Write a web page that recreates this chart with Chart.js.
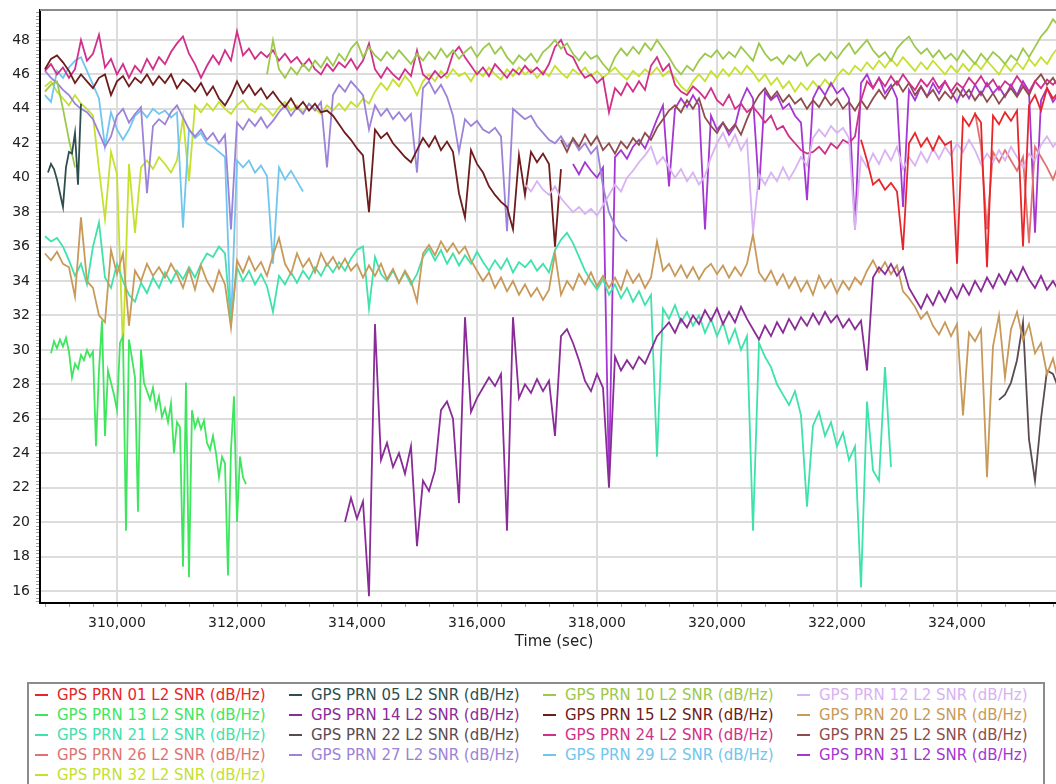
<!DOCTYPE html>
<html>
<head>
<meta charset="utf-8">
<title>GPS L2 SNR</title>
<script src="https://cdn.jsdelivr.net/npm/chart.js@4.4.1/dist/chart.umd.min.js"></script>
<style>
    html, body { margin: 0; padding: 0; background: #fff; overflow: hidden; }
    #chart-wrap { position: absolute; left: 0; top: 0; width: 1068px; height: 665px; }
    #legend {
        position: absolute; left: 27px; top: 682px; width: 1014px; height: 120px;
        border: 2px solid #8c8c8c; background: #fff;
        font-family: "DejaVu Sans", Verdana, sans-serif; font-size: 15px;
    }
    .legend-item { position: absolute; height: 20px; line-height: 20px; white-space: nowrap; }
    .legend-item .dash { display: inline-block; width: 13px; height: 2px; margin-right: 9px; vertical-align: middle; position: relative; top: -1px; }
</style>
</head>
<body>
<div id="chart-wrap"><canvas id="snrChart" width="1068" height="665"></canvas></div>
<div id="legend"></div>

<script>
// --- DONNÉES ---

// Satellites, dans l'ordre de la légende
const prnIds = ['01', '05', '10', '12', '13', '14', '15', '20', '21', '22', '24', '25', '26', '27', '29', '31', '32'];

// Début de chaque série (sec) et pas d'échantillonnage (sec)
const seriesStart = [322400, 308850, 308800, 316800, 308900, 313800, 308800, 308800, 308800, 324700, 308800, 317400, 324300, 308800, 308800, 317600, 308800];
const seriesStep  = [100, 50, 100, 100, 50, 100, 100, 100, 100, 100, 100, 100, 100, 100, 100, 100, 100];

// Graduations
const xTickValues = [310000, 312000, 314000, 316000, 318000, 320000, 322000, 324000];
const yTickValues = [16, 18, 20, 22, 24, 26, 28, 30, 32, 34, 36, 38, 40, 42, 44, 46, 48];

// SNR (dB/Hz)
const prn01 = [42.2, 41.0, 39.6, 39.9,
    39.3, 39.7, 39.2, 35.8, 42.0, 42.6, 41.8, 42.3, 41.6, 42.4,
    41.9, 42.1, 35.0, 43.5, 43.0, 43.7, 43.2, 34.8, 43.6, 43.1,
    43.8, 43.3, 43.9, 36.0, 44.2, 44.8, 43.9, 45.2, 44.6, 45.0, 44.4];

const prn05 = [40.3, 40.8, 40.5, 39.9, 39.1, 38.3, 40.6, 41.5, 41.4, 42.6, 39.6, 44.3];

const prn10 = [45.0, 45.4, 45.6, 44.0, 42.2, 40.6,
    null, null, null, null, null, null, null, null, null, null,
    null, null, null, null, null, null, null, null, null, null,
    null, null, null, null, null, null, null, null, null, null, null,
    46.0, 48.0, 46.3,
    45.8, 46.4, 46.0, 46.6, 46.2, 46.8, 46.4, 47.0, 46.5, 47.2,
    46.8, 47.5, 47.9, 47.0, 47.6, 47.1, 46.8, 47.3, 46.9, 47.4,
    47.0, 46.6, 47.2, 46.8, 47.3, 46.9, 47.5, 47.0, 47.4, 46.9,
    47.3, 47.6, 47.0, 47.5, 47.8, 47.2, 47.6, 47.0, 46.6, 47.1,
    46.8, 47.2, 46.7, 47.3, 47.6, 48.0, 47.5, 47.8, 47.2, 46.8,
    47.3, 46.9, 47.1, 46.6, 46.2, 47.0, 47.5, 47.1, 47.6, 47.2,
    47.8, 47.4, 48.0, 47.5, 47.0, 46.4, 46.0, 46.5, 46.2, 46.8,
    47.2, 47.0, 47.4, 46.9, 47.3, 47.0, 47.6, 47.2, 46.8, 47.8,
    47.2, 46.8, 47.0, 46.6, 47.1, 46.8, 47.3, 46.5, 46.9, 47.2,
    46.8, 47.3, 46.9, 47.4, 47.8, 47.2, 47.6, 48.0, 47.4, 47.0,
    47.3, 46.8, 47.5, 47.9, 48.2, 47.6, 47.2, 47.5, 47.0, 47.4,
    46.9, 47.2, 46.8, 47.4, 47.0, 46.6, 47.2, 46.8, 47.3, 47.0,
    46.6, 47.1, 46.8, 47.5, 47.0, 47.6, 48.2, 48.6, 49.2, 48.8, 48.4];

const prn12 = [39.6, 39.2, 39.8, 39.3, 39.0, 39.5, 38.8, 38.4, 38.0, 38.3,
    37.9, 38.2, 37.8, 38.4, 39.0, 39.6, 39.2, 40.0, 40.4, 40.9,
    41.3, 41.8, 40.8, 41.2, 40.6, 40.0, 40.5, 39.8, 40.3, 39.6,
    40.1, 41.2, 42.0, 42.6, 41.8, 42.5, 41.6, 42.2, 36.8, 40.2,
    39.6, 40.3, 39.8, 40.6, 39.9, 40.5, 41.2, 40.7, 42.3, 42.8,
    42.4, 43.0, 42.6, 42.9, 42.3, 37.0, 41.2, 40.6, 41.4, 40.8,
    41.6, 41.0, 41.8, 40.5, 41.2, 40.7, 41.5, 40.9, 41.7, 41.1,
    41.8, 41.3, 42.0, 41.5, 42.2, 41.6, 40.8, 41.4, 40.9, 41.6,
    41.0, 41.8, 41.2, 40.6, 41.4, 41.0, 41.9, 42.4, 41.8, 42.2, 41.7];

const prn13 = [29.8, 30.5, 30.1, 30.6, 30.2, 30.7, 29.9, 28.4, 29.2, 28.9,
    29.7, 29.4, 30.0, 29.6, 29.9, 24.4, 28.8, 31.7, 25.0, 28.8,
    28.1, 27.4, 26.5, 30.4, 30.8, 19.5, 30.6, 29.5, 28.4, 20.6,
    30.0, 28.1, 27.6, 27.1, 27.8, 26.6, 27.3, 26.1, 26.6, 25.8,
    26.9, 24.0, 25.8, 25.5, 17.4, 28.1, 16.8, 26.5, 25.5, 26.0,
    25.4, 25.9, 24.6, 24.2, 25.0, 24.0, 22.6, 23.8, 23.4, 16.9,
    24.2, 27.3, 20.0, 23.8, 22.6, 22.2];

const prn14 = [20.0, 21.4, 20.2, 21.2, 15.7, 31.5, 23.6, 24.6, 23.2, 24.0,
    22.8, 24.4, 18.6, 22.4, 21.8, 23.0, 26.5, 27.0, 26.0, 21.1,
    31.9, 26.4, 27.2, 27.8, 28.4, 27.9, 28.6, 19.5, 31.9, 27.2,
    28.0, 27.5, 28.3, 27.6, 28.2, 25.0, 30.8, 31.2, 30.4, 29.4,
    28.2, 27.6, 28.6, 27.8, 22.0, 29.6, 28.8, 29.4, 28.9, 29.6,
    29.2, 30.0, 30.8, 31.2, 31.6, 31.0, 31.8, 31.3, 32.0, 31.5,
    32.3, 31.7, 32.4, 31.5, 32.2, 31.6, 32.5, 31.8, 31.2, 30.6,
    31.4, 30.8, 31.6, 31.0, 31.8, 31.2, 31.9, 31.4, 32.1, 31.5,
    32.2, 31.6, 32.0, 31.3, 31.8, 31.2, 31.7, 28.8, 34.2, 34.8,
    34.4, 35.0, 34.3, 34.8, 33.6, 33.0, 32.4, 33.2, 32.6, 33.4,
    32.8, 33.6, 33.0, 33.8, 33.2, 34.0, 33.4, 34.2, 33.6, 34.4,
    33.8, 34.6, 34.0, 34.8, 34.1, 33.6, 34.3, 33.5, 34.0, 33.4, 33.8];

const prn15 = [46.3, 46.9, 47.1, 46.7, 46.2, 45.5, 46.0, 45.6, 45.2, 45.8,
    46.0, 44.8, 45.6, 45.9, 45.3, 45.8, 45.5, 46.0, 45.4, 45.9,
    45.5, 46.0, 45.2, 45.7, 45.4, 45.0, 45.5, 44.8, 45.3, 44.6,
    44.2, 44.8, 45.6, 44.9, 45.4, 44.8, 45.2, 44.6, 45.0, 44.5,
    44.1, 44.6, 44.0, 44.4, 43.9, 44.3, 43.8, 43.9, 43.6, 43.1,
    42.6, 42.2, 41.7, 41.3, 38.0, 42.8, 42.3, 42.6, 42.0, 41.6,
    41.2, 40.9, 41.6, 42.3, 41.8, 42.4, 41.6, 42.1, 41.5, 39.1,
    37.7, 41.6, 40.8, 40.3, 39.5, 39.0, 38.6, 38.3, 37.0, 41.3,
    39.0, 41.5, 40.9, 41.4, 40.8, 36.0, 40.5];

const prn20 = [35.6, 35.2, 35.7, 35.0, 34.8, 33.1, 37.7, 34.0, 33.6, 32.0,
    31.6, 35.8, 34.4, 35.6, 31.4, 34.6, 34.0, 35.0, 34.3, 34.8,
    34.2, 35.0, 34.4, 33.6, 34.7, 33.5, 34.9, 34.0, 33.4, 34.6,
    33.8, 31.3, 35.2, 34.5, 35.4, 34.6, 35.1, 34.3, 35.5, 36.5,
    35.0, 34.4, 35.6, 34.8, 35.3, 34.5, 35.6, 34.9, 35.4, 34.7,
    35.3, 34.6, 35.0, 34.2, 34.9, 34.3, 35.0, 34.1, 34.7, 33.9,
    34.6, 34.0, 32.8, 35.6, 36.1, 35.5, 36.3, 35.7, 36.2, 35.6,
    36.0, 35.2, 34.6, 34.0, 34.5, 33.6, 34.2, 33.4, 34.0, 33.2,
    33.8, 33.1, 33.6, 32.9, 33.5, 35.6, 33.2, 34.0, 33.5, 34.4,
    33.8, 34.5, 33.7, 34.3, 33.6, 34.2, 33.5, 34.6, 33.9, 34.4,
    33.6, 34.2, 36.3, 34.6, 35.0, 34.3, 34.9, 34.2, 34.8, 34.1,
    34.7, 35.0, 34.4, 34.9, 34.2, 34.8, 34.3, 35.0, 36.7, 34.5,
    34.0, 34.6, 33.8, 34.4, 33.6, 34.2, 33.4, 34.0, 33.2, 34.3,
    33.6, 34.1, 33.3, 34.0, 33.5, 34.2, 33.8, 34.6, 35.2, 34.5,
    35.1, 34.4, 34.9, 33.4, 33.0, 32.5, 31.8, 32.2, 31.4, 30.9,
    31.6, 30.8, 31.5, 26.2, 31.0, 30.5, 31.2, 22.6, 30.2, 32.0,
    28.4, 31.2, 32.2, 30.6, 31.5, 29.8, 30.4, 28.6, 29.5, 28.0, 29.0];

const prn21 = [36.6, 36.3, 36.5, 36.0, 35.2, 34.3, 35.0, 33.8, 36.0, 37.4,
    34.2, 33.6, 35.0, 34.0, 33.2, 32.8, 33.9, 33.3, 34.2, 33.6,
    34.5, 33.9, 34.6, 34.1, 34.8, 34.2, 35.0, 35.6, 35.4, 36.0,
    35.6, 31.5, 34.8, 34.0, 34.6, 33.8, 34.4, 33.7, 32.2, 34.3,
    33.8, 34.5, 33.9, 34.6, 34.1, 34.8, 34.3, 35.0, 34.5, 35.1,
    34.6, 35.3, 35.8, 36.0, 32.4, 35.4, 34.4, 34.0, 34.6, 33.9,
    34.5, 33.8, 34.4, 35.4, 35.9, 35.2, 35.8, 35.0, 35.6, 34.9,
    35.5, 35.0, 35.7, 35.1, 34.6, 35.2, 34.7, 35.3, 34.5, 35.1,
    34.8, 35.2, 34.6, 35.0, 34.5, 35.8, 36.4, 36.8, 36.2, 35.4,
    34.6, 34.0, 33.5, 34.1, 33.2, 33.8, 33.0, 33.6, 32.8, 33.4,
    32.6, 33.2, 23.8, 32.4, 31.8, 32.6, 31.6, 32.2, 31.4, 32.0,
    31.0, 31.8, 30.8, 31.6, 30.4, 31.2, 30.0, 30.8, 19.5, 30.4,
    29.6, 29.0, 28.0, 27.4, 26.8, 27.6, 26.2, 20.9, 25.6, 26.4,
    25.0, 25.8, 24.4, 25.2, 23.6, 24.4, 16.2, 27.0, 23.0, 22.4,
    29.0, 23.2];

const prn22 = [27.1, 27.4, 28.1, 29.4, 31.6, 24.8, 22.4, 26.0, 28.8, 28.6, 27.7, 28.4];

const prn24 = [46.2, 46.6, 46.0, 46.4, 45.8, 46.3, 48.0, 46.8, 47.2, 48.3,
    46.4, 46.9, 46.0, 46.6, 45.8, 46.5, 46.1, 46.9, 46.3, 47.0,
    46.6, 47.3, 47.8, 48.2, 47.2, 46.6, 45.8, 46.5, 47.1, 46.6,
    47.4, 46.8, 48.5, 47.1, 47.5, 46.9, 47.3, 47.0, 47.4, 46.8,
    47.2, 46.7, 47.0, 46.5, 46.9, 46.3, 46.0, 46.6, 46.2, 46.7,
    46.4, 46.9, 46.3, 46.8, 47.8, 46.3, 45.8, 46.4, 46.0, 45.7,
    46.3, 45.9, 47.4, 46.0, 45.7, 46.2, 45.8, 46.1, 47.2, 47.6,
    47.0, 46.5, 46.0, 46.4, 45.9, 46.6, 46.2, 45.8, 46.3, 46.0,
    46.5, 46.1, 46.4, 46.0, 46.6, 47.6, 48.0, 47.2, 47.0, 46.3,
    45.8, 46.0, 45.5, 45.8, 43.8, 45.2, 44.8, 45.5, 45.0, 45.6,
    45.1, 46.5, 47.0, 46.2, 46.6, 45.4, 45.0, 44.8, 45.3, 45.0,
    44.6, 45.2, 44.5, 44.2, 44.8, 44.0, 44.3, 43.8, 44.1, 43.7,
    43.2, 43.6, 42.8, 43.0, 42.4, 42.0, 41.6, 41.4, 41.5, 41.8,
    41.4, 42.0, 41.7, 42.2, 42.0, 42.4, 44.5, 45.6, 45.2, 45.8,
    45.3, 45.9, 45.4, 46.0, 45.5, 45.1, 45.7, 45.3, 45.8, 45.2,
    45.6, 45.0, 45.5, 45.2, 45.8, 45.4, 45.9, 45.3, 45.7, 45.1,
    45.6, 45.3, 45.9, 45.4, 45.0, 45.6, 45.2, 45.7, 45.4, 45.8, 45.5];

const prn25 = [42.2, 41.5, 42.3, 41.8,
    42.5, 41.9, 42.4, 41.6, 42.0, 41.4, 42.1, 41.7, 42.3, 41.9,
    42.6, 42.2, 42.9, 43.4, 43.9, 44.2, 43.8, 44.5, 44.0, 44.6,
    43.5, 43.0, 42.6, 43.2, 42.7, 43.1, 42.5, 43.4, 44.2, 44.8,
    45.2, 44.6, 45.0, 44.4, 44.8, 44.3, 44.6, 44.0, 44.5, 44.1,
    44.7, 44.2, 44.6, 44.0, 44.4, 43.9, 44.5, 44.0, 44.6, 45.1,
    44.6, 45.2, 45.6, 45.0, 45.5, 44.8, 45.3, 44.7, 45.1, 44.5,
    45.0, 44.6, 45.2, 44.7, 45.1, 44.5, 45.0, 44.4, 44.9, 44.3,
    44.8, 45.2, 44.7, 45.3, 44.8, 45.6, 46.0, 45.4, 45.8, 45.2, 45.6];

const prn26 = [43.8, 41.8, 37.0, 41.5, 40.9, 41.6, 41.0, 40.4, 41.2, 36.2, 41.8, 41.2, 40.6, 39.9, 40.8, 40.2];

const prn27 = [46.2, 45.8, 45.5, 45.1, 44.8, 44.3, 44.0, 43.8, 43.4, 42.6,
    41.8, 42.4, 43.6, 44.0, 43.2, 43.7, 44.1, 39.1, 43.0, 43.4,
    43.1, 43.8, 44.2, 43.5, 42.8, 42.4, 42.8, 42.2, 42.6, 42.0,
    42.5, 37.0, 43.2, 42.8, 43.4, 43.0, 43.5, 42.9, 43.3, 43.8,
    44.2, 43.6, 44.1, 43.7, 44.3, 43.9, 44.4, 40.6, 44.8, 45.4,
    45.0, 45.6, 45.2, 44.8, 42.8, 44.2, 43.6, 44.0, 43.4, 43.8,
    43.3, 43.7, 40.3, 45.2, 45.6, 44.9, 45.4, 44.7, 43.6, 41.5,
    43.4, 43.0, 43.3, 42.8, 42.6, 42.9, 42.4, 36.9, 44.0, 43.7,
    43.4, 43.6, 43.0, 42.6, 42.2, 42.0, 42.4, 41.8, 42.2, 41.6,
    42.0, 41.4, 41.8, 39.5, 38.0, 37.2, 36.6, 36.3];

const prn29 = [44.8, 44.4, 46.2, 45.8, 46.4, 46.8, 47.0, 46.2, 45.4, 44.6,
    41.8, 43.8, 42.8, 42.2, 42.8, 43.6, 43.9, 43.5, 44.0, 43.7,
    43.9, 43.5, 43.8, 37.1, 42.8, 42.3, 42.6, 42.0, 41.8, 41.5,
    41.2, 31.5, 41.0, 40.6, 41.0, 40.3, 40.7, 40.1, 35.0, 40.6,
    39.9, 40.4, 39.8, 39.2];

const prn31 = [40.8, 40.2,
    40.9, 40.4, 40.0, 40.6, 22.5, 41.2, 41.6, 41.1, 41.8, 42.2,
    41.7, 42.5, 43.4, 44.2, 39.5, 44.0, 44.6, 44.1, 44.8, 44.2,
    37.0, 43.6, 42.8, 43.2, 42.5, 43.0, 44.4, 45.2, 44.6, 39.3,
    45.0, 44.5, 44.8, 44.0, 44.3, 43.6, 43.2, 38.7, 44.6, 45.3,
    44.8, 45.5, 44.9, 45.2, 44.6, 37.0, 45.5, 46.0, 45.2, 45.8,
    44.9, 45.4, 44.6, 38.3, 45.1, 44.5, 45.3, 44.7, 45.5, 44.9,
    45.6, 45.0, 44.4, 45.2, 44.6, 45.4, 44.8, 45.5, 44.9, 45.3,
    44.7, 45.4, 44.8, 45.6, 45.0, 36.8, 44.5, 45.2, 44.4, 44.9, 45.3];

const prn32 = [45.3, 45.6, 45.0, 44.6, 44.2, 44.8, 44.3, 44.0, 43.6, 40.5,
    37.6, 41.5, 40.2, 30.0, 40.8, 36.8, 40.6, 41.0, 40.5, 41.2,
    40.8, 40.3, 41.0, 43.5, 39.8, 44.2, 43.8, 44.3, 43.9, 44.4,
    44.0, 43.7, 44.2, 44.5, 44.0, 43.8, 44.3, 44.0, 43.6, 44.1,
    44.4, 43.9, 44.2, 43.8, 44.3, 44.0, 43.7, 44.2, 43.9, 44.3,
    43.9, 44.4, 44.1, 44.6, 44.3, 45.0, 45.5, 45.1, 45.7, 45.3,
    45.9, 45.5, 44.8, 45.6, 46.0, 45.6, 46.2, 45.8, 46.3, 45.9,
    46.1, 45.6, 46.2, 45.9, 46.4, 46.0, 45.7, 46.3, 45.9, 46.4,
    46.0, 46.3, 45.8, 46.2, 45.9, 46.5, 46.1, 45.8, 46.3, 46.0,
    46.4, 45.9, 46.2, 45.8, 46.1, 46.4, 46.0, 45.7, 46.2, 45.9,
    46.3, 46.0, 46.4, 45.9, 46.2, 45.8, 45.3, 45.0, 45.6, 46.0,
    45.6, 46.2, 45.8, 46.3, 45.9, 46.4, 46.0, 46.5, 46.1, 45.6,
    46.0, 45.4, 45.8, 45.2, 45.6, 45.0, 45.5, 45.1, 45.6, 45.2,
    45.7, 45.3, 45.9, 46.3, 46.0, 46.5, 46.2, 46.7, 46.3, 46.8,
    46.4, 46.9, 46.5, 47.0, 46.6, 46.2, 46.7, 46.3, 46.8, 46.4,
    46.0, 46.5, 46.1, 46.6, 46.2, 46.7, 46.3, 46.8, 46.4, 46.0,
    46.6, 46.2, 46.7, 46.3, 46.9, 46.5, 47.0, 46.6, 47.2, 47.6, 47.9];

const seriesValues = [prn01, prn05, prn10, prn12, prn13, prn14, prn15, prn20, prn21, prn22,
    prn24, prn25, prn26, prn27, prn29, prn31, prn32];

// --- STYLE ---
const seriesColors = ['#e8262a', '#2f4f4f', '#9cc84c', '#d8b2f2', '#3ee65e', '#8a2c98', '#6e1c1c', '#c89a5a',
    '#3ee2aa', '#5a4a52', '#d0308a', '#8e4c4c', '#e07272', '#9c82d8', '#70c6ee', '#a636d2', '#c6e030'];

const FONT = '"DejaVu Sans", Verdana, sans-serif';

// Bordure du haut + petites graduations
const framePlugin = {
    id: 'frame',
    afterDraw(chart) {
        const { ctx, chartArea: a, scales: { x, y } } = chart;
        ctx.save();
        ctx.strokeStyle = '#8a8a8a';
        ctx.lineWidth = 2;
        ctx.beginPath();
        ctx.moveTo(a.left, a.top);
        ctx.lineTo(a.right, a.top);
        ctx.stroke();

        ctx.strokeStyle = '#a0a0a0';
        ctx.lineWidth = 1;
        ctx.beginPath();
        for (let i = 77; i <= 248; i++) {
            const py = Math.round(y.getPixelForValue(i / 5)) + 0.5;
            ctx.moveTo(a.left - 4, py);
            ctx.lineTo(a.left - 1, py);
        }
        for (let t = 308800; t <= 325800; t += 400) {
            const px = Math.round(x.getPixelForValue(t)) + 0.5;
            ctx.moveTo(px, a.bottom + 1);
            ctx.lineTo(px, a.bottom + 4);
        }
        ctx.stroke();
        ctx.restore();
    }
};

// --- GRAPHIQUE ---
const datasets = prnIds.map((id, s) => ({
    label: `GPS PRN ${id} L2 SNR (dB/Hz)`,
    data: seriesValues[s].map((v, i) => ({ x: seriesStart[s] + i * seriesStep[s], y: v })),
    borderColor: seriesColors[s],
    backgroundColor: seriesColors[s],
    borderWidth: 1.8,
    pointRadius: 0,
    tension: 0,
    spanGaps: false
}));

new Chart(document.getElementById('snrChart').getContext('2d'), {
    type: 'line',
    data: { datasets: datasets },
    options: {
        responsive: false,
        animation: false,
        devicePixelRatio: 1,
        layout: { padding: { top: 10, right: 0, left: 0, bottom: 0 } },
        plugins: { legend: { display: false }, tooltip: { enabled: false } },
        scales: {
            x: {
                type: 'linear',
                min: 308717,
                max: 325850,
                afterBuildTicks: scale => { scale.ticks = xTickValues.map(v => ({ value: v })); },
                afterFit: scale => {
                    scale.height = 62;
                    scale.paddingLeft = 0;
                    scale.paddingRight = 0;
                },
                grid: { color: '#dcdcdc', lineWidth: 2, drawTicks: false },
                border: { color: '#000', width: 2 },
                ticks: {
                    autoSkip: false, maxRotation: 0, padding: 12, color: '#222',
                    font: { family: FONT, size: 14 },
                    callback: v => v.toLocaleString('en-US')
                },
                title: {
                    display: true, text: 'Time (sec)', color: '#222',
                    font: { family: FONT, size: 15 },
                    padding: { top: 0, bottom: 14 }
                }
            },
            y: {
                type: 'linear',
                min: 15.3,
                max: 49.74,
                afterBuildTicks: scale => { scale.ticks = yTickValues.map(v => ({ value: v })); },
                afterFit: scale => {
                    scale.width = 40;
                    scale.paddingTop = 0;
                    scale.paddingBottom = 0;
                },
                grid: { color: '#dcdcdc', lineWidth: 2, drawTicks: false },
                border: { color: '#000', width: 2 },
                ticks: {
                    autoSkip: false, padding: 10, color: '#222',
                    font: { family: FONT, size: 14 }
                }
            }
        }
    },
    plugins: [framePlugin]
});

// --- LÉGENDE ---
const legendBox = document.getElementById('legend');
prnIds.forEach((id, s) => {
    const item = document.createElement('div');
    item.className = 'legend-item';
    item.style.left = (6 + (s % 4) * 254) + 'px';
    item.style.top = (1 + Math.floor(s / 4) * 20) + 'px';
    item.style.color = seriesColors[s];
    item.innerHTML = `<span class="dash" style="background:${seriesColors[s]}"></span>GPS PRN ${id} L2 SNR (dB/Hz)`;
    legendBox.appendChild(item);
});
</script>
</body>
</html>
